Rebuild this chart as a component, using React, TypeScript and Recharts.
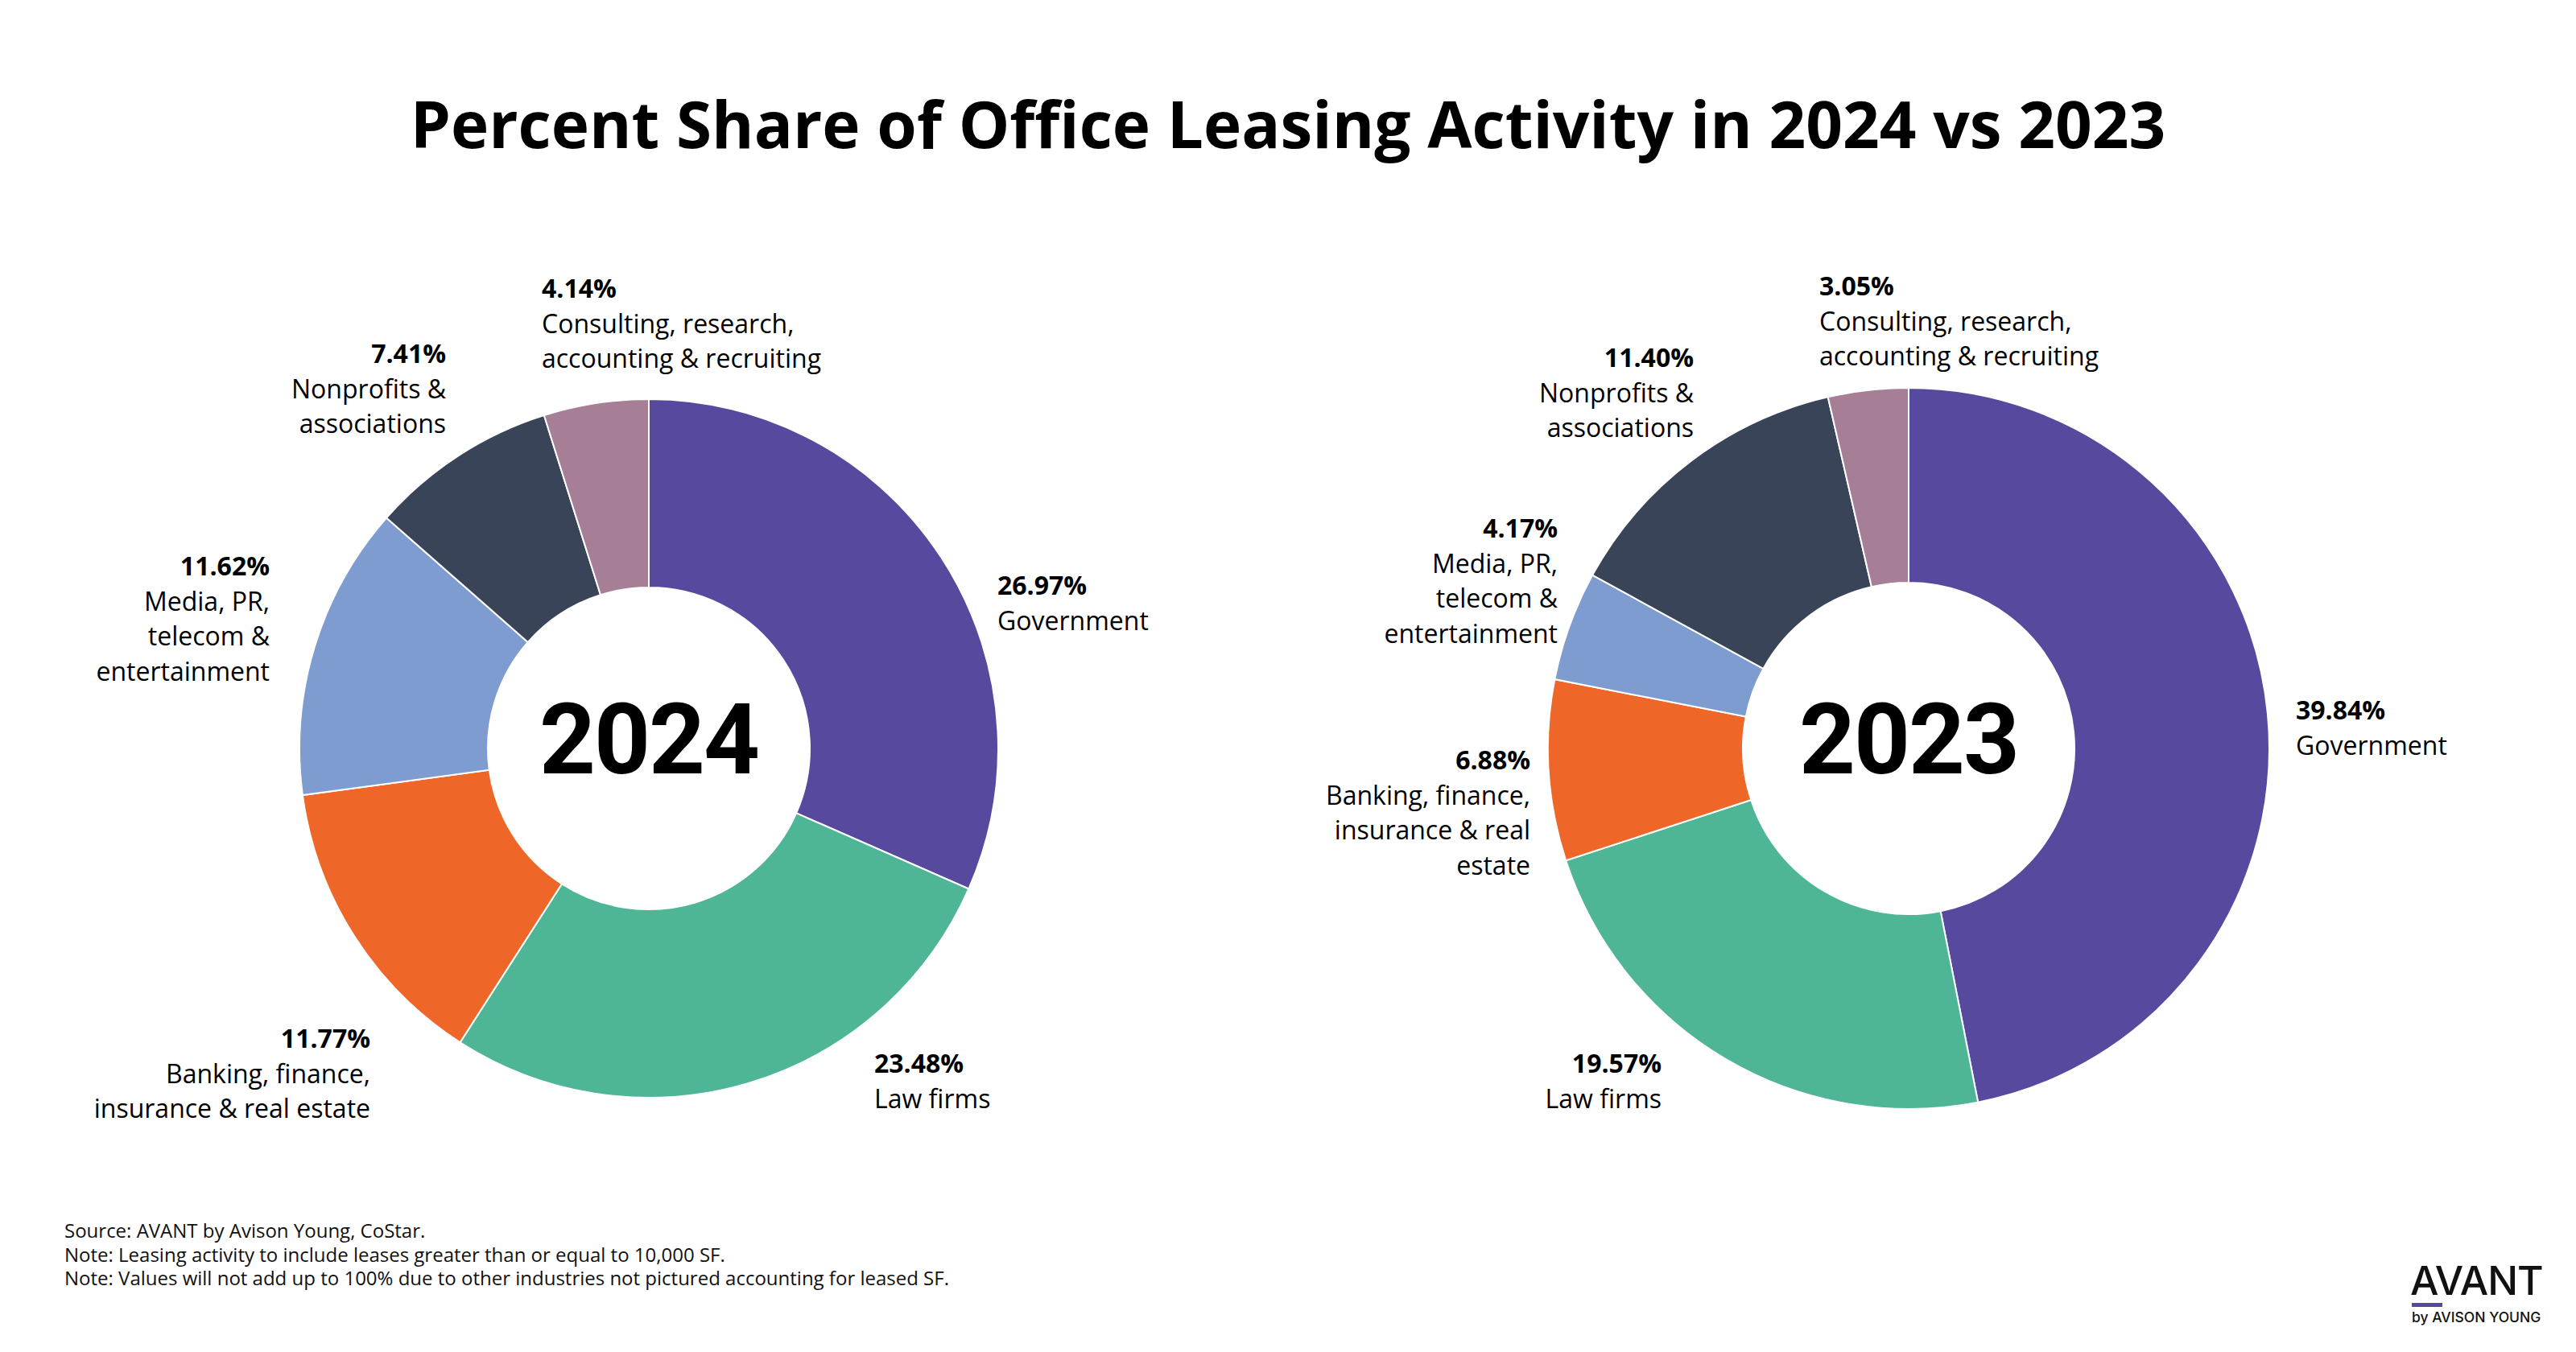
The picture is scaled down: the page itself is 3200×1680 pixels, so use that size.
import React from 'react';
import { PieChart, Pie, Cell } from 'recharts';

const categories = [
  'Government',
  'Law firms',
  'Banking, finance, insurance & real estate',
  'Media, PR, telecom & entertainment',
  'Nonprofits & associations',
  'Consulting, research, accounting & recruiting',
];
const share2024 = [26.97, 23.48, 11.77, 11.62, 7.41, 4.14];
const share2023 = [39.84, 19.57, 6.88, 4.17, 11.4, 3.05];

const lines2024 = [
  ['Government'],
  ['Law firms'],
  ['Banking, finance,', 'insurance & real estate'],
  ['Media, PR,', 'telecom &', 'entertainment'],
  ['Nonprofits &', 'associations'],
  ['Consulting, research,', 'accounting & recruiting'],
];
const lines2023 = [
  ['Government'],
  ['Law firms'],
  ['Banking, finance,', 'insurance & real', 'estate'],
  ['Media, PR,', 'telecom &', 'entertainment'],
  ['Nonprofits &', 'associations'],
  ['Consulting, research,', 'accounting & recruiting'],
];

const COLORS = ['#574A9E', '#4FB597', '#EF6629', '#7F9CD1', '#3A4459', '#A67F97'];

// label block offsets from the donut centre (first line)
const place2024 = [
  { dx: 433, dy: -204, a: 'start' },
  { dx: 280, dy: 390, a: 'start' },
  { dx: -346, dy: 359, a: 'end' },
  { dx: -471, dy: -228, a: 'end' },
  { dx: -252, dy: -492, a: 'end' },
  { dx: -133, dy: -573, a: 'start' },
];
const place2023 = [
  { dx: 481, dy: -49, a: 'start' },
  { dx: -307, dy: 390, a: 'end' },
  { dx: -470, dy: 13, a: 'end' },
  { dx: -436, dy: -275, a: 'end' },
  { dx: -267, dy: -487, a: 'end' },
  { dx: -111, dy: -576, a: 'start' },
];

const FONT = '"Open Sans", sans-serif';
const LH = 43.5;

const makeLabel = (lines: string[][], place: any[]) => (props: any) => {
  const { cx, cy, index, value } = props;
  const p = place[index];
  const x = cx + p.dx;
  const y = cy + p.dy;
  return (
    <text x={x} y={y} textAnchor={p.a} fontFamily={FONT} fontSize={32} fill="#000" dominantBaseline="central">
      <tspan x={x} y={y} fontWeight={700}>{value.toFixed(2)}%</tspan>
      {lines[index].map((l, i) => (
        <tspan key={i} x={x} y={y + LH * (i + 1)}>{l}</tspan>
      ))}
    </text>
  );
};

const Donut = ({ values, lines, place, year, left, cx, cy, inner, outer }: any) => {
  const data = categories.map((name, i) => ({ name, value: values[i] }));
  return (
    <div style={{ position: 'absolute', left, top: 0, width: 1600, height: 1680 }}>
      <PieChart width={1600} height={1680} margin={{ top: 0, right: 0, bottom: 0, left: 0 }}>
        <Pie
          data={data}
          dataKey="value"
          nameKey="name"
          cx={cx}
          cy={cy}
          innerRadius={inner}
          outerRadius={outer}
          startAngle={90}
          endAngle={-270}
          stroke="#fff"
          strokeWidth={2}
          isAnimationActive={false}
          labelLine={false}
          label={makeLabel(lines, place)}
        >
          {data.map((_, i) => (
            <Cell key={`cell-${i}`} fill={COLORS[i % COLORS.length]} />
          ))}
        </Pie>
      </PieChart>
      <div
        style={{
          position: 'absolute',
          left: cx - 250,
          top: cy - 10 - 65,
          width: 500,
          height: 130,
          lineHeight: '130px',
          textAlign: 'center',
          fontFamily: 'Roboto, sans-serif',
          fontWeight: 700,
          fontSize: 122,
          letterSpacing: -2,
          color: '#000',
        }}
      >
        {year}
      </div>
    </div>
  );
};

export default function App() {
  return (
    <div style={{ position: 'absolute', left: 0, top: 0, width: 3200, height: 1680, background: '#fff', overflow: 'hidden' }}>
      <div
        style={{
          position: 'absolute',
          left: 0,
          top: 103,
          width: 3200,
          textAlign: 'center',
          fontFamily: FONT,
          fontWeight: 700,
          fontSize: 80,
          lineHeight: '100px',
          color: '#000',
        }}
      >
        Percent Share of Office Leasing Activity in 2024 vs 2023
      </div>
      <Donut values={share2024} lines={lines2024} place={place2024} year="2024" left={0} cx={806} cy={930} inner={200} outer={434} />
      <Donut values={share2023} lines={lines2023} place={place2023} year="2023" left={1600} cx={771} cy={930} inner={206} outer={448} />
      <div
        style={{
          position: 'absolute',
          left: 80,
          top: 1514,
          fontFamily: FONT,
          fontSize: 24,
          lineHeight: '29.5px',
          color: '#111',
        }}
      >
        <div>Source: AVANT by Avison Young, CoStar.</div>
        <div>Note: Leasing activity to include leases greater than or equal to 10,000 SF.</div>
        <div>Note: Values will not add up to 100% due to other industries not pictured accounting for leased SF.</div>
      </div>
      <div style={{ position: 'absolute', left: 2994, top: 1563, width: 170, fontFamily: 'Inter, sans-serif', color: '#111' }}>
        <div style={{ fontSize: 50, fontWeight: 500, lineHeight: '56px', letterSpacing: -1 }}>AVANT</div>
        <div style={{ width: 38, height: 5, background: '#574A9E', marginLeft: 2 }} />
        <div style={{ fontSize: 17.5, fontWeight: 500, lineHeight: '26px', marginLeft: 2 }}>by AVISON YOUNG</div>
      </div>
    </div>
  );
}
